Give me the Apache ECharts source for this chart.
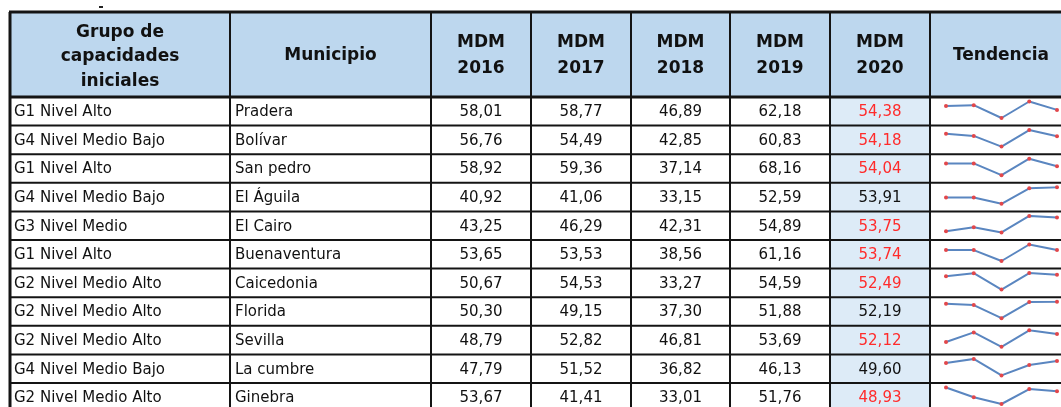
<!DOCTYPE html>
<html>
<head>
<meta charset="utf-8">
<script src="https://cdn.jsdelivr.net/npm/echarts@6/dist/echarts.min.js"></script>
<style>
  html, body { margin: 0; padding: 0; background: #fff; }
  #chart { width: 1061px; height: 407px; }
</style>
</head>
<body>
<div id="chart"></div>
<script>
// datos de la tabla
const grupos = ['G1 Nivel Alto', 'G4 Nivel Medio Bajo', 'G1 Nivel Alto', 'G4 Nivel Medio Bajo', 'G3 Nivel Medio',
  'G1 Nivel Alto', 'G2 Nivel Medio Alto', 'G2 Nivel Medio Alto', 'G2 Nivel Medio Alto', 'G4 Nivel Medio Bajo', 'G2 Nivel Medio Alto'];
const municipios = ['Pradera', 'Bolívar', 'San pedro', 'El Águila', 'El Cairo', 'Buenaventura',
  'Caicedonia', 'Florida', 'Sevilla', 'La cumbre', 'Ginebra'];
const anios = ['2016', '2017', '2018', '2019', '2020'];
const mdm2016 = [58.01, 56.76, 58.92, 40.92, 43.25, 53.65, 50.67, 50.30, 48.79, 47.79, 53.67];
const mdm2017 = [58.77, 54.49, 59.36, 41.06, 46.29, 53.53, 54.53, 49.15, 52.82, 51.52, 41.41];
const mdm2018 = [46.89, 42.85, 37.14, 33.15, 42.31, 38.56, 33.27, 37.30, 46.81, 36.82, 33.01];
const mdm2019 = [62.18, 60.83, 68.16, 52.59, 54.89, 61.16, 54.59, 51.88, 53.69, 46.13, 51.76];
const mdm2020 = [54.38, 54.18, 54.04, 53.91, 53.75, 53.74, 52.49, 52.19, 52.12, 49.60, 48.93];
const series = [mdm2016, mdm2017, mdm2018, mdm2019, mdm2020];

// layout
const colX = [10, 230, 431, 531, 631, 730, 830, 930, 1075];
const headTop = 12, headBottom = 97, rowH = 28.6;
const FONT = '"DejaVu Sans", Verdana, sans-serif';
const fmt = v => v.toFixed(2).replace('.', ',');

const g = [];
// fondos
g.push({ type: 'rect', shape: { x: colX[0], y: headTop, width: colX[8] - colX[0], height: headBottom - headTop },
  style: { fill: '#bdd7ee' }, z: 1 });
g.push({ type: 'rect', shape: { x: colX[6], y: headBottom, width: colX[7] - colX[6], height: 407 - headBottom },
  style: { fill: '#ddebf7' }, z: 1 });

// encabezados
const headers = ['Grupo de\ncapacidades\niniciales', 'Municipio'].concat(anios.map(a => 'MDM\n' + a), ['Tendencia']);
headers.forEach((h, i) => {
  const cx = i === 7 ? 1001 : (colX[i] + colX[i + 1]) / 2;
  g.push({ type: 'text', z: 5, style: {
    text: h, x: cx, y: i === 0 ? 57 : (headTop + headBottom) / 2 + 1, align: 'center', verticalAlign: 'middle',
    font: 'bold 17px ' + FONT, lineHeight: i === 0 ? 24.5 : 26, fill: '#111' } });
});

// filas
municipios.forEach((m, r) => {
  const cy = headBottom + r * rowH + rowH / 2 + 1;
  g.push({ type: 'text', z: 5, style: { text: grupos[r], x: colX[0] + 4, y: cy, verticalAlign: 'middle',
    font: '15px ' + FONT, fill: '#111' } });
  g.push({ type: 'text', z: 5, style: { text: m, x: colX[1] + 5, y: cy, verticalAlign: 'middle',
    font: '15px ' + FONT, fill: '#111' } });
  series.forEach((s, c) => {
    const red = c === 4 && mdm2020[r] < mdm2019[r];
    g.push({ type: 'text', z: 5, style: { text: fmt(s[r]), x: (colX[c + 2] + colX[c + 3]) / 2, y: cy,
      align: 'center', verticalAlign: 'middle', font: '15px ' + FONT, fill: red ? '#ff2b2b' : '#111' } });
  });
});

// lineas
const line = (x1, y1, x2, y2, w) => g.push({ type: 'line', z: 10,
  shape: { x1, y1, x2, y2 }, style: { stroke: '#141414', lineWidth: w } });
line(colX[0] - 1, headTop, colX[8], headTop, 3);
line(colX[0], headTop, colX[0], 407, 3);
colX.slice(1, 8).forEach(x => line(x, headTop, x, 407, 2));
line(colX[0], headBottom, colX[8], headBottom, 3);
for (let r = 1; r <= municipios.length; r++) {
  const y = headBottom + r * rowH;
  line(colX[0], y, colX[8], y, 2);
}
g.push({ type: 'rect', z: 10, shape: { x: 99, y: 6, width: 4, height: 2 }, style: { fill: '#222' } });

// sparklines
const grid = [], xAxis = [], yAxis = [], lines = [];
municipios.forEach((m, r) => {
  grid.push({ left: 946, width: 111, top: headBottom + r * rowH + 4.5, height: 16.5 });
  xAxis.push({ type: 'category', gridIndex: r, data: anios, show: false, boundaryGap: false });
  yAxis.push({ type: 'value', gridIndex: r, show: false, scale: true, min: 'dataMin', max: 'dataMax' });
  lines.push({ type: 'line', xAxisIndex: r, yAxisIndex: r, data: series.map(s => s[r]),
    symbol: 'circle', symbolSize: 4, silent: true, animation: false, z: 3,
    lineStyle: { color: '#5a86c0', width: 2 }, itemStyle: { color: '#e2474b' } });
});

const chart = echarts.init(document.getElementById('chart'));
chart.setOption({
  backgroundColor: '#fff',
  animation: false,
  grid, xAxis, yAxis, series: lines,
  graphic: g
});
</script>
</body>
</html>
